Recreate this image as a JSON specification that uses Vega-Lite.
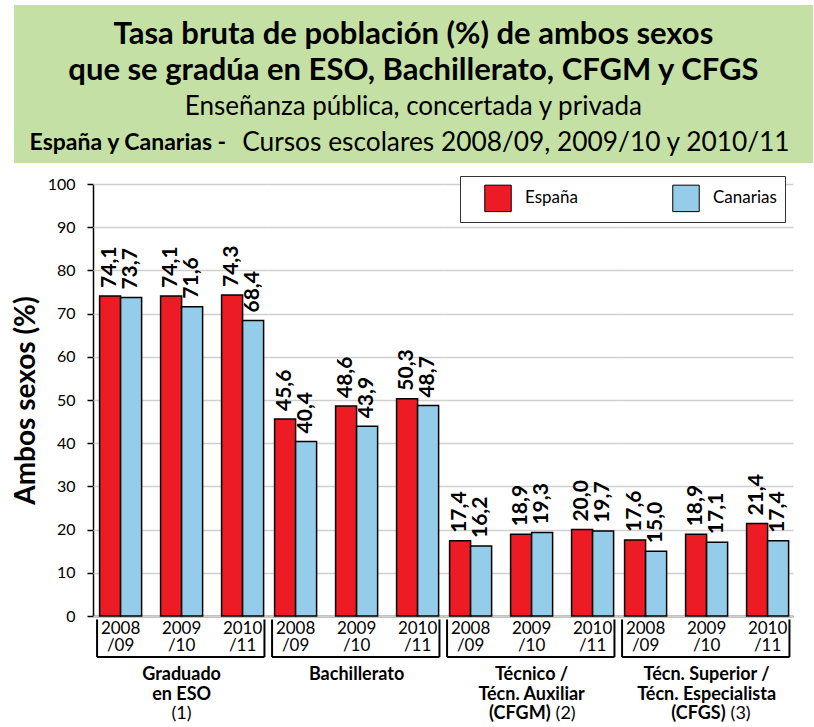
{
  "$schema": "https://vega.github.io/schema/vega-lite/v6.json",
  "padding": {"left": 12, "top": 5, "right": 3, "bottom": 3},
  "autosize": {"type": "pad"},
  "background": "white",
  "config": {
    "font": "Lato",
    "locale": {"number": {"decimal": ",", "thousands": ".", "grouping": [3], "currency": ["", " €"]}},
    "view": {"stroke": null},
    "axis": {"labelFont": "Lato", "titleFont": "Lato", "labelColor": "black", "titleColor": "black", "domainColor": "black", "tickColor": "black"},
    "legend": {"labelFont": "Lato"}
  },
  "datasets": {
    "vals": [
      {"group": "Graduado en ESO", "year": "2008/09", "serie": "España", "value": 74.1},
      {"group": "Graduado en ESO", "year": "2008/09", "serie": "Canarias", "value": 73.7},
      {"group": "Graduado en ESO", "year": "2009/10", "serie": "España", "value": 74.1},
      {"group": "Graduado en ESO", "year": "2009/10", "serie": "Canarias", "value": 71.6},
      {"group": "Graduado en ESO", "year": "2010/11", "serie": "España", "value": 74.3},
      {"group": "Graduado en ESO", "year": "2010/11", "serie": "Canarias", "value": 68.4},
      {"group": "Bachillerato", "year": "2008/09", "serie": "España", "value": 45.6},
      {"group": "Bachillerato", "year": "2008/09", "serie": "Canarias", "value": 40.4},
      {"group": "Bachillerato", "year": "2009/10", "serie": "España", "value": 48.6},
      {"group": "Bachillerato", "year": "2009/10", "serie": "Canarias", "value": 43.9},
      {"group": "Bachillerato", "year": "2010/11", "serie": "España", "value": 50.3},
      {"group": "Bachillerato", "year": "2010/11", "serie": "Canarias", "value": 48.7},
      {"group": "CFGM", "year": "2008/09", "serie": "España", "value": 17.4},
      {"group": "CFGM", "year": "2008/09", "serie": "Canarias", "value": 16.2},
      {"group": "CFGM", "year": "2009/10", "serie": "España", "value": 18.9},
      {"group": "CFGM", "year": "2009/10", "serie": "Canarias", "value": 19.3},
      {"group": "CFGM", "year": "2010/11", "serie": "España", "value": 20.0},
      {"group": "CFGM", "year": "2010/11", "serie": "Canarias", "value": 19.7},
      {"group": "CFGS", "year": "2008/09", "serie": "España", "value": 17.6},
      {"group": "CFGS", "year": "2008/09", "serie": "Canarias", "value": 15.0},
      {"group": "CFGS", "year": "2009/10", "serie": "España", "value": 18.9},
      {"group": "CFGS", "year": "2009/10", "serie": "Canarias", "value": 17.1},
      {"group": "CFGS", "year": "2010/11", "serie": "España", "value": 21.4},
      {"group": "CFGS", "year": "2010/11", "serie": "Canarias", "value": 17.4}
    ],
    "groups": [
      {"group": "Graduado en ESO", "bold": "Graduado\nen  ESO", "mid": "(1)", "boldEnd": "", "normalEnd": ""},
      {"group": "Bachillerato", "bold": "Bachillerato", "mid": "", "boldEnd": "", "normalEnd": ""},
      {"group": "CFGM", "bold": "Técnico /\nTécn. Auxiliar", "mid": "", "boldEnd": "(CFGM)", "normalEnd": "(2)"},
      {"group": "CFGS", "bold": "Técn. Superior /\nTécn. Especialista", "mid": "", "boldEnd": "(CFGS)", "normalEnd": "(3)"}
    ],
    "titles": [
      {"line": "l1", "part": "a", "text": "Tasa bruta de población (%) de ambos sexos"},
      {"line": "l2", "part": "a", "text": "que se gradúa en ESO, Bachillerato, CFGM y CFGS"},
      {"line": "l3", "part": "b", "text": "Enseñanza pública, concertada y privada"},
      {"line": "l4", "part": "c", "text": "España y Canarias  -"},
      {"line": "l4", "part": "d", "text": "Cursos escolares 2008/09, 2009/10 y 2010/11"}
    ]
  },
  "spacing": 13,
  "vconcat": [
    {
      "width": 720,
      "height": 158,
      "data": {"name": "titles"},
      "layer": [
        {
          "transform": [{"filter": "datum.part == 'a' && datum.line == 'l1'"}],
          "mark": {"type": "rect", "color": "#c5e0a5"},
          "encoding": {
            "x": {"datum": -0.1097, "type": "quantitative", "scale": {"domain": [0, 1], "nice": false, "zero": false}, "axis": null},
            "x2": {"datum": 1}
          }
        },
        {
          "transform": [{"filter": "datum.part == 'a'"}],
          "mark": {"type": "text", "fontSize": 31, "fontWeight": "bold", "align": "center", "baseline": "middle", "color": "black"},
          "encoding": {
            "x": {"datum": 0.445, "type": "quantitative", "scale": {"domain": [0, 1], "nice": false, "zero": false}, "axis": null},
            "y": {"field": "line", "type": "ordinal", "scale": {"type": "point", "domain": ["l1", "l2", "l3", "l4"], "padding": 0.69, "align": 0.6}, "axis": null},
            "text": {"field": "text"}
          }
        },
        {
          "transform": [{"filter": "datum.part == 'b'"}],
          "mark": {"type": "text", "fontSize": 26, "align": "center", "baseline": "middle", "color": "black"},
          "encoding": {
            "x": {"datum": 0.445, "type": "quantitative", "scale": {"domain": [0, 1], "nice": false, "zero": false}, "axis": null},
            "y": {"field": "line", "type": "ordinal", "scale": {"type": "point", "domain": ["l1", "l2", "l3", "l4"], "padding": 0.69, "align": 0.6}, "axis": null},
            "text": {"field": "text"}
          }
        },
        {
          "transform": [{"filter": "datum.part == 'c'"}],
          "mark": {"type": "text", "fontSize": 23, "fontWeight": "bold", "align": "right", "baseline": "middle", "color": "black"},
          "encoding": {
            "x": {"datum": 0.185, "type": "quantitative", "scale": {"domain": [0, 1], "nice": false, "zero": false}, "axis": null},
            "y": {"field": "line", "type": "ordinal", "scale": {"type": "point", "domain": ["l1", "l2", "l3", "l4"], "padding": 0.69, "align": 0.6}, "axis": null},
            "text": {"field": "text"}
          }
        },
        {
          "transform": [{"filter": "datum.part == 'd'"}],
          "mark": {"type": "text", "fontSize": 26.3, "align": "left", "baseline": "middle", "color": "black", "dx": 16},
          "encoding": {
            "x": {"datum": 0.185, "type": "quantitative", "scale": {"domain": [0, 1], "nice": false, "zero": false}, "axis": null},
            "y": {"field": "line", "type": "ordinal", "scale": {"type": "point", "domain": ["l1", "l2", "l3", "l4"], "padding": 0.69, "align": 0.6}, "axis": null},
            "text": {"field": "text"}
          }
        }
      ]
    },
    {
      "data": {"name": "vals"},
      "transform": [
        {"lookup": "group", "from": {"data": {"name": "groups"}, "key": "group", "fields": ["bold", "mid", "boldEnd", "normalEnd"]}}
      ],
      "facet": {"column": {"field": "group", "type": "nominal", "sort": ["Graduado en ESO", "Bachillerato", "CFGM", "CFGS"], "header": null}},
      "spacing": 0,
      "bounds": "flush",
      "spec": {
        "width": 175,
        "height": 432,
        "layer": [
          {
            "mark": {"type": "bar", "stroke": "black", "strokeWidth": 1.5},
            "encoding": {
              "x": {"field": "year", "type": "nominal", "scale": {"paddingInner": 0.311, "paddingOuter": 0.09, "align": 0.6},
                "axis": {"title": null, "labelAngle": 0, "labelExpr": "[slice(datum.label,0,4), slice(datum.label,4)]", "labelFontSize": 17, "labelLineHeight": 17, "ticks": false, "domainWidth": 1.5, "labelPadding": 4, "labelBaseline": "top"}},
              "xOffset": {"field": "serie", "type": "nominal", "sort": ["España", "Canarias"]},
              "y": {"field": "value", "type": "quantitative", "scale": {"domain": [0, 100], "nice": false},
                "axis": {"title": "Ambos sexos (%)", "titleFontSize": 28, "titleFontWeight": "bold", "titlePadding": 7, "values": [0, 10, 20, 30, 40, 50, 60, 70, 80, 90, 100], "labelFontSize": 16, "tickSize": 6, "tickWidth": 1.5, "labelPadding": 12, "domainWidth": 1.5, "gridColor": "#d0d0d0", "gridWidth": 1.5}},
              "color": {"field": "serie", "type": "nominal", "scale": {"domain": ["España", "Canarias"], "range": ["#ed1c24", "#93cdea"]},
                "legend": {"title": null, "orient": "none", "legendX": 367, "legendY": 171, "direction": "horizontal", "columns": 2, "symbolType": "square", "symbolSize": 700, "symbolStrokeColor": "black", "symbolStrokeWidth": 1, "symbolOpacity": 1, "labelFontSize": 17, "labelColor": "black", "labelOffset": 13, "columnPadding": 78, "padding": 8, "symbolOffset": 16, "strokeColor": "#333", "fillColor": "white"}}
            }
          },
          {
            "mark": {"type": "text", "angle": 270, "align": "left", "baseline": "middle", "dx": 8, "fontSize": 21, "fontWeight": "bold", "color": "black"},
            "encoding": {
              "x": {"field": "year", "type": "nominal"},
              "xOffset": {"field": "serie", "type": "nominal", "sort": ["España", "Canarias"]},
              "y": {"field": "value", "type": "quantitative", "scale": {"domain": [0, 100], "nice": false}},
              "text": {"field": "value", "type": "quantitative", "format": ".1f"}
            }
          },
          {
            "transform": [{"filter": "datum.year == '2009/10' && datum.serie == 'España'"}],
            "mark": {"type": "rule", "strokeWidth": 2, "color": "black"},
            "encoding": {
              "x": {"datum": "2008/09", "bandPosition": -0.06},
              "y": {"datum": -0.8, "scale": {"domain": [0, 100], "nice": false}},
              "y2": {"datum": -9.5}
            }
          },
          {
            "transform": [{"filter": "datum.year == '2009/10' && datum.serie == 'España'"}],
            "mark": {"type": "rule", "strokeWidth": 2, "color": "black"},
            "encoding": {
              "x": {"datum": "2010/11", "bandPosition": 1.02},
              "y": {"datum": -0.8, "scale": {"domain": [0, 100], "nice": false}},
              "y2": {"datum": -9.5}
            }
          },
          {
            "transform": [{"filter": "datum.year == '2009/10' && datum.serie == 'España'"}],
            "mark": {"type": "rule", "strokeWidth": 2, "color": "black"},
            "encoding": {
              "x": {"datum": "2008/09", "bandPosition": -0.06},
              "x2": {"datum": "2010/11", "bandPosition": 1.02},
              "y": {"datum": -9.5, "scale": {"domain": [0, 100], "nice": false}}
            }
          },
          {
            "transform": [{"filter": "datum.year == '2009/10' && datum.serie == 'España'"}],
            "mark": {"type": "text", "fontSize": 18, "fontWeight": "bold", "align": "center", "baseline": "top", "lineBreak": "\n", "lineHeight": 20, "color": "black"},
            "encoding": {
              "x": {"datum": "2009/10"},
              "y": {"datum": -11.5, "scale": {"domain": [0, 100], "nice": false}},
              "text": {"field": "bold"}
            }
          },
          {
            "transform": [{"filter": "datum.year == '2009/10' && datum.serie == 'España'"}],
            "mark": {"type": "text", "fontSize": 18, "align": "center", "baseline": "middle", "color": "black"},
            "encoding": {
              "x": {"datum": "2009/10"},
              "y": {"datum": -22.6, "scale": {"domain": [0, 100], "nice": false}},
              "text": {"field": "mid"}
            }
          },
          {
            "transform": [{"filter": "datum.year == '2009/10' && datum.serie == 'España'"}],
            "mark": {"type": "text", "fontSize": 18, "fontWeight": "bold", "align": "right", "baseline": "middle", "dx": 19, "color": "black"},
            "encoding": {
              "x": {"datum": "2009/10"},
              "y": {"datum": -22.8, "scale": {"domain": [0, 100], "nice": false}},
              "text": {"field": "boldEnd"}
            }
          },
          {
            "transform": [{"filter": "datum.year == '2009/10' && datum.serie == 'España'"}],
            "mark": {"type": "text", "fontSize": 18, "align": "left", "baseline": "middle", "dx": 24, "color": "black"},
            "encoding": {
              "x": {"datum": "2009/10"},
              "y": {"datum": -22.8, "scale": {"domain": [0, 100], "nice": false}},
              "text": {"field": "normalEnd"}
            }
          }
        ]
      }
    }
  ]
}
